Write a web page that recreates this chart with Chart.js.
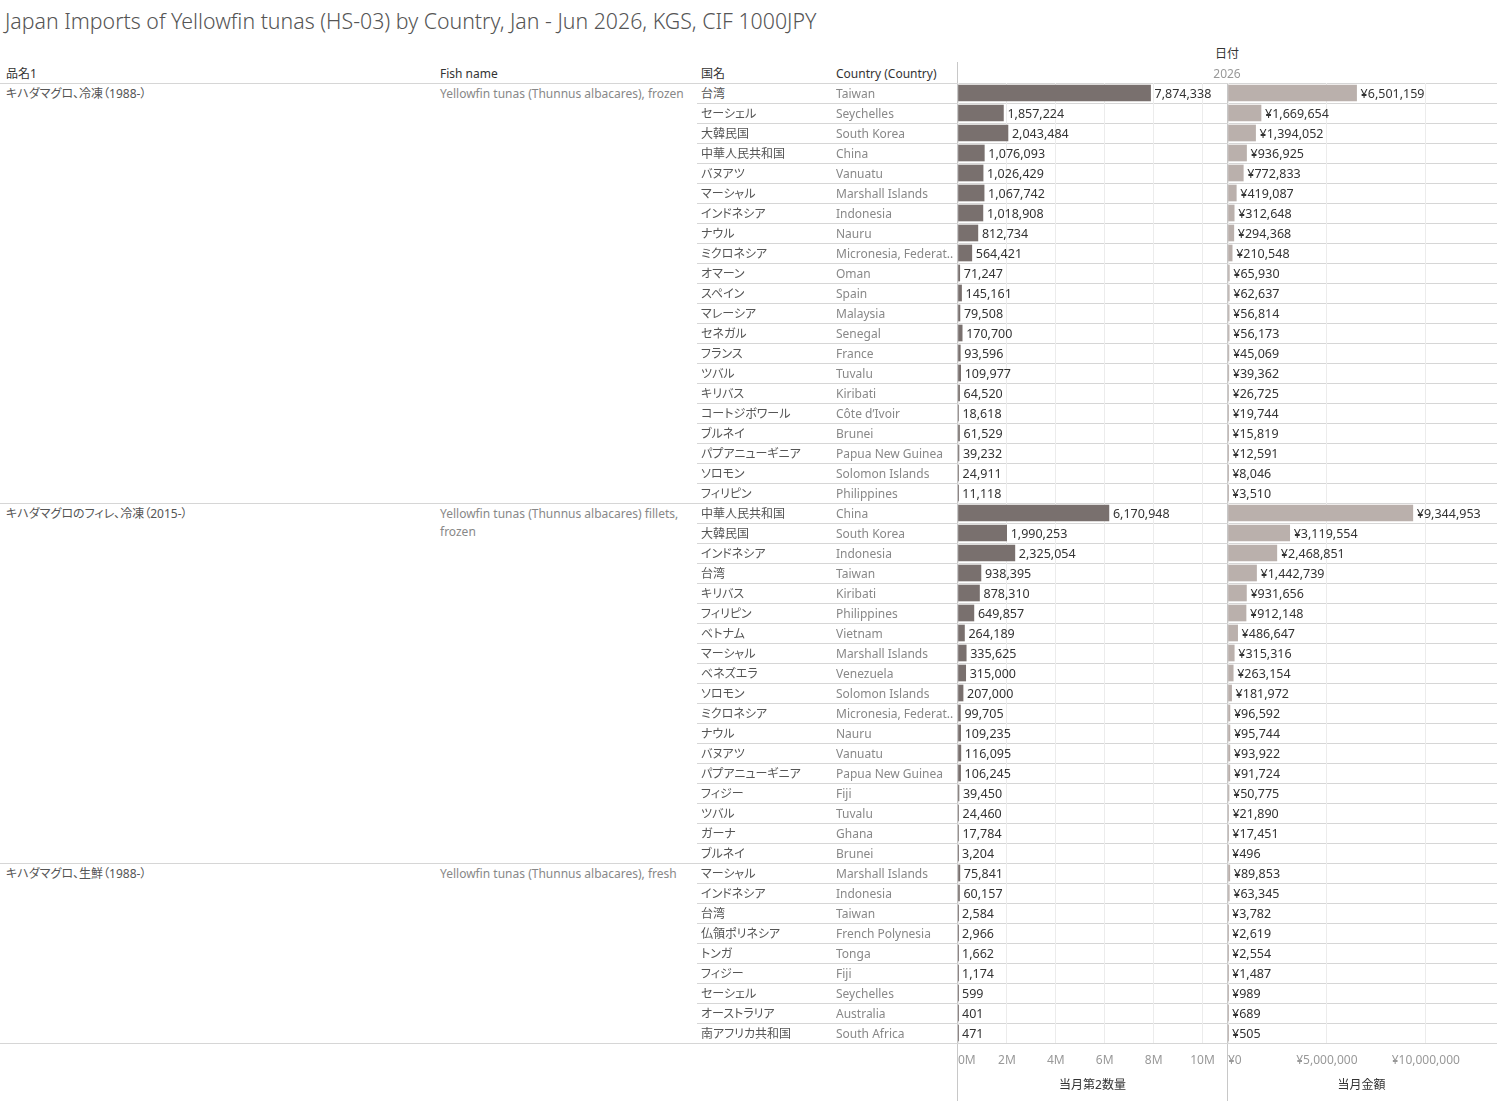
<!DOCTYPE html>
<html>
<head>
<meta charset="utf-8">
<script src="https://cdn.jsdelivr.net/npm/chart.js@4.4.1/dist/chart.umd.min.js"></script>
<style>
  body { margin: 0; background: #fff; font-family: "Noto Sans", "Noto Sans CJK JP", sans-serif; }
  #page { position: relative; width: 1499px; height: 1101px; overflow: hidden; }
  .t { position: absolute; white-space: nowrap; font-size: 12px; line-height: 20px; font-feature-settings: "palt"; }
  .ln { position: absolute; background: #d6d6d6; }
  canvas { position: absolute; }
</style>
</head>
<body>
<div id="page">
  <div class="t" style="left:5px;top:9px;font-size:21.3px;line-height:24px;color:#555;font-weight:300;">Japan Imports of Yellowfin tunas (HS-03) by Country, Jan - Jun 2026, KGS, CIF 1000JPY</div>
  <canvas id="qtyChart" width="300" height="1018" style="left:938px;top:83px;"></canvas>
  <canvas id="valChart" width="298" height="1018" style="left:1208px;top:83px;"></canvas>
</div>
<script>
// groups (品名1 / Fish name) and how many country rows each has
let groupJa = ["キハダマグロ、冷凍（1988-）", "キハダマグロのフィレ、冷凍（2015-）", "キハダマグロ、生鮮（1988-）"];
let groupEn = [
  "Yellowfin tunas (Thunnus albacares), frozen",
  "Yellowfin tunas (Thunnus albacares) fillets, frozen",
  "Yellowfin tunas (Thunnus albacares), fresh",
];
let groupSizes = [21, 18, 9];

let countriesJa = [
  "台湾", "セーシェル", "大韓民国", "中華人民共和国", "バヌアツ", "マーシャル", "インドネシア", "ナウル", "ミクロネシア", "オマーン",
  "スペイン", "マレーシア", "セネガル", "フランス", "ツバル", "キリバス", "コートジボワール", "ブルネイ", "パプアニューギニア", "ソロモン", "フィリピン",
  "中華人民共和国", "大韓民国", "インドネシア", "台湾", "キリバス", "フィリピン", "ベトナム", "マーシャル", "ベネズエラ", "ソロモン",
  "ミクロネシア", "ナウル", "バヌアツ", "パプアニューギニア", "フィジー", "ツバル", "ガーナ", "ブルネイ",
  "マーシャル", "インドネシア", "台湾", "仏領ポリネシア", "トンガ", "フィジー", "セーシェル", "オーストラリア", "南アフリカ共和国",
];
let countriesEn = [
  "Taiwan", "Seychelles", "South Korea", "China", "Vanuatu", "Marshall Islands", "Indonesia", "Nauru", "Micronesia, Federated States of", "Oman",
  "Spain", "Malaysia", "Senegal", "France", "Tuvalu", "Kiribati", "Côte d’Ivoir", "Brunei", "Papua New Guinea", "Solomon Islands", "Philippines",
  "China", "South Korea", "Indonesia", "Taiwan", "Kiribati", "Philippines", "Vietnam", "Marshall Islands", "Venezuela", "Solomon Islands",
  "Micronesia, Federated States of", "Nauru", "Vanuatu", "Papua New Guinea", "Fiji", "Tuvalu", "Ghana", "Brunei",
  "Marshall Islands", "Indonesia", "Taiwan", "French Polynesia", "Tonga", "Fiji", "Seychelles", "Australia", "South Africa",
];
// 当月第2数量 (KGS)
let quantity = [
  7874338, 1857224, 2043484, 1076093, 1026429, 1067742, 1018908, 812734, 564421, 71247,
  145161, 79508, 170700, 93596, 109977, 64520, 18618, 61529, 39232, 24911, 11118,
  6170948, 1990253, 2325054, 938395, 878310, 649857, 264189, 335625, 315000, 207000,
  99705, 109235, 116095, 106245, 39450, 24460, 17784, 3204,
  75841, 60157, 2584, 2966, 1662, 1174, 599, 401, 471,
];
// 当月金額 (1000 JPY)
let amount = [
  6501159, 1669654, 1394052, 936925, 772833, 419087, 312648, 294368, 210548, 65930,
  62637, 56814, 56173, 45069, 39362, 26725, 19744, 15819, 12591, 8046, 3510,
  9344953, 3119554, 2468851, 1442739, 931656, 912148, 486647, 315316, 263154, 181972,
  96592, 95744, 93922, 91724, 50775, 21890, 17451, 496,
  89853, 63345, 3782, 2619, 2554, 1487, 989, 689, 505,
];
let qtyTicks = [0, 2e6, 4e6, 6e6, 8e6, 10e6];
let amtTicks = [0, 5e6, 10e6];

const page = document.getElementById("page");
const TOP = 83;
const ROW = 20;
const FONT = '"Noto Sans", "Noto Sans CJK JP", sans-serif';

function addText(txt, left, top, style) {
  let d = document.createElement("div");
  d.className = "t";
  d.textContent = txt;
  d.style.left = left + "px";
  d.style.top = top + "px";
  Object.assign(d.style, style || {});
  page.appendChild(d);
  return d;
}
function addLine(left, top, w, h, color) {
  let d = document.createElement("div");
  d.className = "ln";
  Object.assign(d.style, { left: left + "px", top: top + "px", width: w + "px", height: h + "px" });
  if (color) d.style.background = color;
  page.insertBefore(d, page.firstChild);
}

// tableau style truncation with ".."
let mctx = document.createElement("canvas").getContext("2d");
mctx.font = "12px " + FONT;
function fit(txt, maxW) {
  if (mctx.measureText(txt).width <= maxW) return txt;
  let s = txt;
  while (s.length && mctx.measureText(s + "..").width > maxW) s = s.slice(0, -1);
  return s + "..";
}

// headers
addText("品名1", 6, 64, { color: "#333" });
addText("Fish name", 440, 64, { color: "#333" });
addText("国名", 701, 64, { color: "#333" });
addText("Country (Country)", 836, 64, { color: "#333" });
addText("日付", 1127, 44, { color: "#333", width: "200px", textAlign: "center" });
addText("2026", 1127, 64, { color: "#999", width: "200px", textAlign: "center" });

// rows
let start = 0;
groupSizes.forEach((n, g) => {
  addText(groupJa[g], 6, TOP + start * ROW + 1, { color: "#555" });
  addText(groupEn[g], 440, TOP + start * ROW + 2, {
    color: "#888", whiteSpace: "normal", width: "255px", lineHeight: "18px",
  });
  addLine(0, TOP + start * ROW, 1497, 1);
  for (let i = 1; i < n; i++) addLine(697, TOP + (start + i) * ROW, 800, 1);
  start += n;
});
addLine(0, TOP + start * ROW, 1497, 1);
countriesJa.forEach((c, i) => {
  addText(c, 701, TOP + i * ROW + 1, { color: "#555" });
  addText(fit(countriesEn[i], 120), 836, TOP + i * ROW + 1, { color: "#888" });
});
// pane borders
addLine(957, 62, 1, 1039, "#c8c8c8");
addLine(1227, 83, 1, 1018, "#c8c8c8");

Chart.defaults.font.family = FONT;
Chart.defaults.font.size = 12;

const valueLabels = {
  id: "valueLabels",
  afterDatasetsDraw(chart, args, opts) {
    const ctx = chart.ctx;
    const meta = chart.getDatasetMeta(0);
    ctx.save();
    ctx.font = "12.5px " + FONT;
    ctx.fillStyle = "#333";
    ctx.textBaseline = "middle";
    meta.data.forEach((bar, i) => {
      let v = chart.data.datasets[0].data[i];
      ctx.fillText(opts.prefix + v.toLocaleString("en-US"), bar.x + 4, bar.y + 1);
    });
    ctx.restore();
  },
};

function makeChart(id, data, color, max, ticks, fmt, title, padRight, prefix) {
  return new Chart(document.getElementById(id), {
    type: "bar",
    data: {
      labels: countriesEn,
      datasets: [{ data: data, backgroundColor: color, barThickness: 16 }],
    },
    plugins: [valueLabels],
    options: {
      responsive: false,
      animation: false,
      indexAxis: "y",
      layout: { padding: { left: 20, right: padRight, top: 0, bottom: 0 } },
      plugins: {
        legend: { display: false },
        tooltip: { enabled: false },
        valueLabels: { prefix: prefix },
      },
      scales: {
        y: { display: false },
        x: {
          position: "bottom",
          min: 0,
          max: max,
          // an unlabeled tick at the pane edge lets the first label sit inside the pane
          afterBuildTicks: (scale) => {
            scale.ticks = ticks.concat([max]).map((v) => ({ value: v }));
          },
          afterFit: (scale) => {
            scale.height = 58;
          },
          grid: {
            color: (c) => (c.tick && c.tick.value === max ? "rgba(0,0,0,0)" : "#ececec"),
            drawTicks: false,
          },
          border: { display: false },
          ticks: {
            color: "#999",
            padding: 10,
            maxRotation: 0,
            autoSkip: false,
            align: "inner",
            callback: (v) => (v === max ? "" : fmt(v)),
          },
          title: {
            display: true,
            text: title,
            color: "#333",
            padding: { top: 0, bottom: 8 },
          },
        },
      },
    },
  });
}

makeChart("qtyChart", quantity, "#79706e", 11e6, qtyTicks, (v) => v / 1e6 + "M", "当月第2数量", 11, "");
makeChart("valChart", amount, "#bab0ac", 13.5e6, amtTicks, (v) => "¥" + v.toLocaleString("en-US"), "当月金額", 11, "¥");
</script>
</body>
</html>
